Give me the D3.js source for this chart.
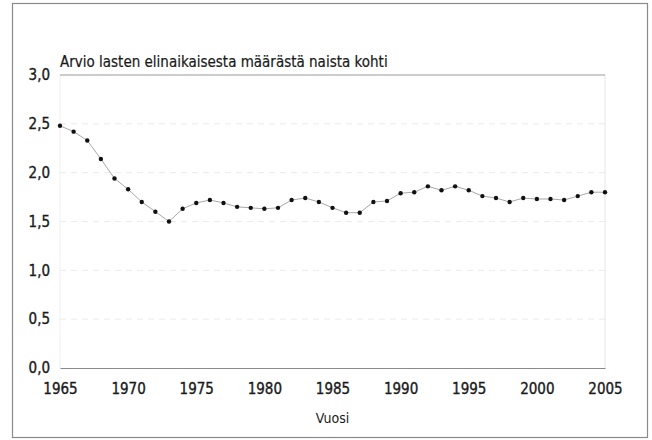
<!DOCTYPE html>
<html>
<head>
<meta charset="utf-8">
<script src="https://cdn.jsdelivr.net/npm/d3@7"></script>
<style>
  body { margin: 0; background: #fff; }
  svg { display: block; }
  text { font-family: "Liberation Sans Narrow", "DejaVu Sans Condensed", "Roboto", sans-serif; fill: #1a1a1a; }
</style>
</head>
<body>
<script>
const years = d3.range(1965, 2006);
const values = [
  2.48, 2.42, 2.33, 2.14, 1.94, 1.83, 1.70, 1.60, 1.50, 1.63,
  1.69, 1.72, 1.69, 1.65, 1.64, 1.63, 1.64, 1.72, 1.74, 1.70,
  1.64, 1.59, 1.59, 1.70, 1.71, 1.79, 1.80, 1.86, 1.82, 1.86,
  1.82, 1.76, 1.74, 1.70, 1.74, 1.73, 1.73, 1.72, 1.76, 1.80,
  1.80
];
const yTicks = [0, 0.5, 1.0, 1.5, 2.0, 2.5, 3.0];
const xTicks = [1965, 1970, 1975, 1980, 1985, 1990, 1995, 2000, 2005];
const title = "Arvio lasten elinaikaisesta määrästä naista kohti";
const xTitle = "Vuosi";

const width = 652, height = 440;
const margin = { left: 60, right: 47, top: 75, bottom: 72 };

const svg = d3.select("body").append("svg")
  .attr("width", width)
  .attr("height", height);

// outer frame
svg.append("rect")
  .attr("x", 12.5).attr("y", 3.5)
  .attr("width", 635).attr("height", 434)
  .attr("fill", "none")
  .attr("stroke", "#8a8a8a")
  .attr("stroke-width", 1.2);

const x = d3.scaleLinear()
  .domain([1965, 2005])
  .range([margin.left, width - margin.right]);

const y = d3.scaleLinear()
  .domain([0, 3])
  .range([height - margin.bottom, margin.top]);

// gridlines (very faint, dashed)
svg.append("g")
  .selectAll("line")
  .data(yTicks.filter(d => d > 0 && d < 3))
  .join("line")
  .attr("x1", x(1965)).attr("x2", x(2005))
  .attr("y1", d => y(d)).attr("y2", d => y(d))
  .attr("stroke", "#ebebeb")
  .attr("stroke-dasharray", "6,5");

// left and right faint edges
svg.append("line")
  .attr("x1", x(1965)).attr("x2", x(1965))
  .attr("y1", y(3)).attr("y2", y(0))
  .attr("stroke", "#efefef");
svg.append("line")
  .attr("x1", x(2005)).attr("x2", x(2005))
  .attr("y1", y(3)).attr("y2", y(0))
  .attr("stroke", "#e6e6e6");

// top line
svg.append("line")
  .attr("x1", x(1965)).attr("x2", x(2005))
  .attr("y1", y(3)).attr("y2", y(3))
  .attr("stroke", "#9a9a9a");

// baseline axis
const xAxis = d3.axisBottom(x)
  .tickValues(xTicks)
  .tickSize(0)
  .tickPadding(15)
  .tickFormat(d3.format("d"));

const gx = svg.append("g")
  .attr("transform", `translate(0,${y(0)})`)
  .call(xAxis);
gx.select(".domain").attr("stroke", "#8a8a8a").attr("stroke-width", 1.2);
gx.selectAll("text")
  .style("font-size", "15px")
  .attr("stroke", "#1a1a1a").attr("stroke-width", 0.35);

const yAxis = d3.axisLeft(y)
  .tickValues(yTicks)
  .tickSize(0)
  .tickPadding(10)
  .tickFormat(d => d3.format(".1f")(d).replace(".", ","));

const gy = svg.append("g")
  .attr("transform", `translate(${margin.left},0)`)
  .call(yAxis);
gy.select(".domain").remove();
gy.selectAll("text")
  .style("font-size", "15px")
  .attr("stroke", "#1a1a1a").attr("stroke-width", 0.35);

// series
const line = d3.line()
  .x((d, i) => x(years[i]))
  .y(d => y(d));

svg.append("path")
  .datum(values)
  .attr("d", line)
  .attr("fill", "none")
  .attr("stroke", "#a8a8a8")
  .attr("stroke-width", 1);

svg.append("g")
  .selectAll("circle")
  .data(values)
  .join("circle")
  .attr("cx", (d, i) => x(years[i]))
  .attr("cy", d => y(d))
  .attr("r", 2.2)
  .attr("fill", "#111");

// titles
svg.append("text")
  .attr("x", 60).attr("y", 67)
  .style("font-size", "15px")
  .attr("stroke", "#1a1a1a").attr("stroke-width", 0.2)
  .text(title);

svg.append("text")
  .attr("x", (x(1965) + x(2005)) / 2)
  .attr("y", 423)
  .attr("text-anchor", "middle")
  .style("font-size", "14px")
  .text(xTitle);
</script>
</body>
</html>
